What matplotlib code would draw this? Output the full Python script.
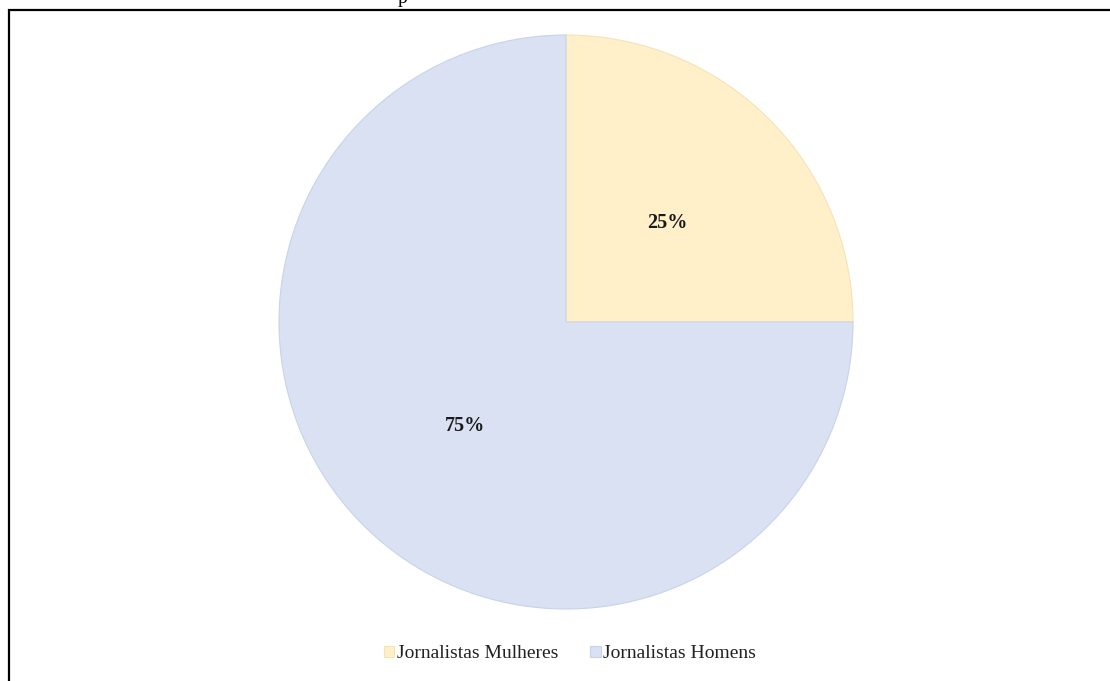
import matplotlib.pyplot as plt
from matplotlib.patches import Rectangle

labels = ['Jornalistas Mulheres', 'Jornalistas Homens']
shares = [25, 75]
colors = ['#FFF0C9', '#D9E1F2']
edge_colors = ['#F5E3B5', '#C8D3EA']

plt.rcParams['font.family'] = ['Liberation Serif', 'DejaVu Serif']

fig = plt.figure(figsize=(11.1, 6.81), dpi=100)
ax = fig.add_axes([0, 0, 1, 1])
ax.set_xlim(0, 1110)
ax.set_ylim(681, 0)
ax.axis('off')

# frame around the chart area (runs off the right and bottom)
fig.patches.append(Rectangle((9 / 1110, -0.1), 1.2, 1 - 10 / 681 + 0.1,
                             transform=fig.transFigure, fill=False,
                             edgecolor='black', linewidth=1.6))
fig.text(403 / 1110, 1 - 3 / 681, 'p', fontsize=14, ha='center', va='baseline')

pax = fig.add_axes([(566 - 287) / 1110, 1 - (322 + 287) / 681,
                    574 / 1110, 574 / 681])
wedges, texts, autotexts = pax.pie(shares, colors=colors, startangle=90,
                                   counterclock=False, autopct='%d%%',
                                   pctdistance=0.5, radius=1,
                                   wedgeprops=dict(linewidth=0.8))
for w, ec in zip(wedges, edge_colors):
    w.set_edgecolor(ec)
for t in autotexts:
    t.set_fontsize(14.5)
    t.set_fontweight('bold')
    t.set_color('#1a1a1a')
    x, y = t.get_position()
    t.set_position((x, y - 0.01))
pax.set_xlim(-1, 1)
pax.set_ylim(-1, 1)
pax.set_aspect('equal')

fig.legend(wedges, labels, loc='center', bbox_to_anchor=(570 / 1110, 1 - 654 / 681),
           ncol=2, frameon=False, fontsize=14, handlelength=0.55, handleheight=0.55,
           handletextpad=0.15, columnspacing=1.6, labelcolor='#222222')

fig.savefig('out.png', dpi=100)
